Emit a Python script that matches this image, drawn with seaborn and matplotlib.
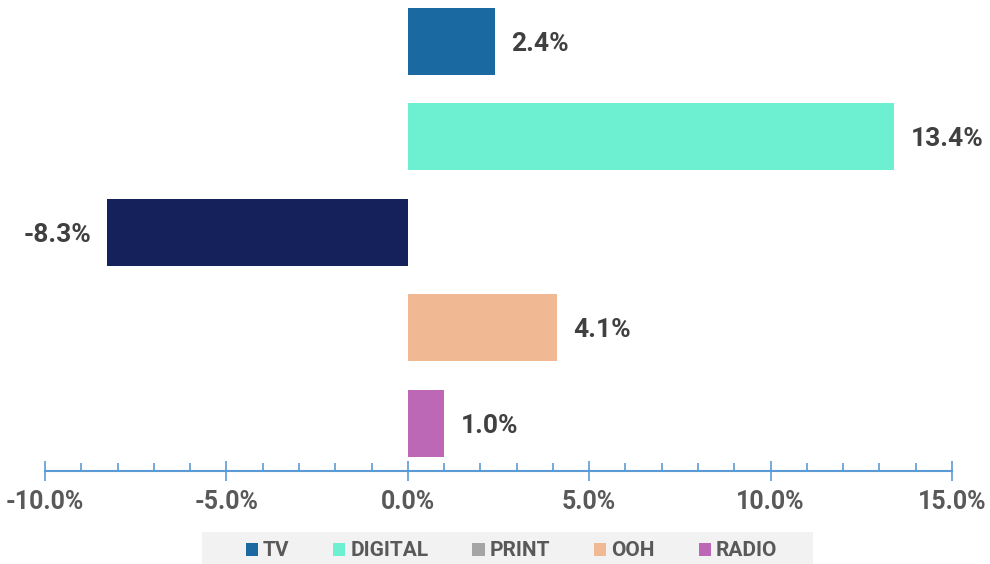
import numpy as np
import pandas as pd
import matplotlib
matplotlib.use('Agg')
import matplotlib.pyplot as plt
import seaborn as sns
from matplotlib.patches import Patch, Rectangle
from matplotlib.ticker import MultipleLocator, FuncFormatter

sns.set_style("white")
plt.rcParams['font.family'] = ['Roboto', 'DejaVu Sans']

# data
channels = ['TV', 'DIGITAL', 'PRINT', 'OOH', 'RADIO']
growth = [2.4, 13.4, -8.3, 4.1, 1.0]
bar_colors = ['#1A69A0', '#6DF0D2', '#14215A', '#F0B893', '#BD67B7']
legend_colors = ['#1A69A0', '#6DF0D2', '#A5A5A5', '#F0B893', '#BD67B7']

df = pd.DataFrame({'channel': channels, 'growth': growth})

fig = plt.figure(figsize=(9.9, 5.64), dpi=100)
ax = fig.add_axes([45 / 990, 1 - 471 / 564, (952 - 45) / 990, 471 / 564])

sns.barplot(data=df, x='growth', y='channel', hue='channel',
            palette=dict(zip(channels, bar_colors)), order=channels,
            width=0.7, legend=False, saturation=1, linewidth=0, ax=ax)

ax.set_xlim(-10, 15)
ax.set_ylim(4.5, -0.43)

# value labels
for i, v in enumerate(growth):
    if v >= 0:
        ax.annotate(f'{v:.1f}%', (v, i), xytext=(12, -2), textcoords='offset points',
                    ha='left', va='center', fontsize=19, fontweight='bold', color='#404040')
    else:
        ax.annotate(f'{v:.1f}%', (v, i), xytext=(-11, -2), textcoords='offset points',
                    ha='right', va='center', fontsize=19, fontweight='bold', color='#404040')

# axis styling
for s in ['left', 'right', 'top']:
    ax.spines[s].set_visible(False)
ax.spines['bottom'].set_color('#5B9BD5')
ax.spines['bottom'].set_linewidth(1.5)
ax.set_yticks([])
ax.set_xlabel('')
ax.set_ylabel('')
ax.xaxis.set_major_locator(MultipleLocator(5))
ax.xaxis.set_minor_locator(MultipleLocator(1))
ax.xaxis.set_major_formatter(FuncFormatter(lambda x, _: f'{x:.1f}%'))
ax.tick_params(axis='x', which='major', bottom=True, direction='inout', length=14, width=1.2,
               color='#5B9BD5', labelsize=18, labelcolor='#595959', pad=7)
ax.tick_params(axis='x', which='minor', bottom=True, direction='in', length=6, width=1.2,
               color='#5B9BD5')
for lbl in ax.get_xticklabels():
    lbl.set_fontweight('bold')

# grey legend band, cut by the bottom edge as in the original
fig.patches.append(Rectangle((202 / 990, 0), (813 - 202) / 990, (564 - 532) / 564,
                             transform=fig.transFigure, facecolor='#F2F2F2',
                             edgecolor='none', zorder=0))

# legend (PRINT swatch is grey in the original)
handles = [Patch(facecolor=c, edgecolor='none') for c in legend_colors]
leg = fig.legend(handles, channels, loc='center', ncol=5,
                 bbox_to_anchor=((247 + 776) / 2 / 990, 1 - 551 / 564), frameon=False,
                 handlelength=0.58, handleheight=0.58, handletextpad=0.25,
                 columnspacing=2.1, borderpad=0, borderaxespad=0,
                 prop={'size': 15, 'weight': 'bold'})
for t in leg.get_texts():
    t.set_color('#595959')

fig.savefig('out.png', dpi=100)
